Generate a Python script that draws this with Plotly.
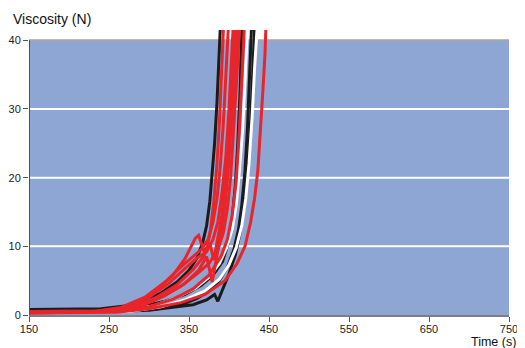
import plotly.graph_objects as go

# ---- data (time in s, viscosity in N) ----
black1_t = [150, 200, 240, 270, 295, 315, 335, 350, 360, 367, 372, 376, 379, 382, 385, 387, 389]
black1_v = [0.8, 0.8, 0.9, 1.3, 2.2, 3.2, 4.8, 6.5, 8.3, 10.5, 13, 16.5, 20.5, 25, 31, 36, 41.5]
black2_t = [150, 220, 260, 290, 320, 345, 365, 380, 392, 399, 404, 408, 411, 414, 416]
black2_v = [0.8, 0.7, 0.8, 1.2, 2.0, 3.0, 4.3, 5.8, 7.8, 10.5, 14, 19, 25, 33, 41.5]
black3_t = [150, 250, 300, 330, 355, 372, 382, 386, 392, 400, 408, 414, 419, 423, 427, 430, 432]
black3_v = [0.7, 0.5, 0.7, 1.1, 1.5, 2.2, 3.0, 2.0, 3.8, 6, 8.8, 12, 16, 21, 28, 36, 41.5]
black4_t = [150, 260, 310, 340, 360, 375, 388, 398, 406, 412, 416, 420, 423, 426, 428]
black4_v = [0.6, 0.5, 0.9, 1.5, 2.4, 3.5, 5, 7, 9.5, 12.5, 16, 21, 27, 35, 41.5]

white1_t = [150, 265, 305, 335, 358, 375, 388, 397, 404, 409, 413, 417, 420, 423]
white1_v = [0.4, 0.5, 1.3, 2.6, 3.9, 5.5, 7.5, 9.8, 12.5, 16, 21, 27, 34, 41.5]
white2_t = [150, 275, 315, 345, 370, 388, 400, 409, 416, 421, 425, 429, 432, 435]
white2_v = [0.4, 0.5, 1.2, 2.2, 3.5, 5.2, 7.3, 9.8, 13, 17, 22, 29, 36, 41.5]

red1_t = [150, 230, 260, 285, 310, 330, 345, 353, 358, 362, 365, 369, 373, 377, 381, 385, 388, 391, 393]
red1_v = [0.5, 0.5, 0.9, 1.8, 3.6, 5.8, 8.2, 10, 11.2, 11.6, 10.5, 9.2, 10, 12.5, 16.5, 22, 28, 35, 41.5]
red2_t = [150, 240, 270, 300, 325, 345, 360, 372, 380, 386, 391, 396, 400, 403, 405]
red2_v = [0.4, 0.5, 1.0, 2.6, 4.6, 6.8, 8.3, 9.2, 11, 13.5, 17.5, 23, 30, 37, 41.5]
red3_t = [150, 250, 280, 310, 335, 355, 368, 376, 381, 386, 391, 395, 399, 403, 406, 408]
red3_v = [0.5, 0.6, 1.2, 2.6, 4.4, 6.6, 8.5, 10.5, 8, 11, 14.5, 19, 25, 32, 38, 41.5]
red4_t = [150, 255, 290, 320, 345, 362, 372, 379, 384, 390, 395, 399, 403, 407, 411]
red4_v = [0.3, 0.5, 1.3, 2.8, 4.6, 6.5, 8.5, 4.8, 8, 12, 16, 21, 28, 35, 41.5]
red5_t = [150, 260, 300, 330, 355, 375, 390, 398, 404, 409, 413, 417, 419]
red5_v = [0.4, 0.5, 1.2, 2.3, 3.8, 5.8, 8.5, 11, 14.5, 19.5, 27, 37, 41.5]
red6_t = [150, 260, 300, 340, 370, 395, 410, 420, 427, 432, 436, 439, 442, 445, 446]
red6_v = [0.3, 0.4, 0.9, 1.8, 3, 5, 7.5, 10, 13.5, 17, 21, 26, 32, 38, 41.5]
red7_t = [150, 235, 265, 295, 320, 340, 355, 365, 374, 380, 385, 389, 393, 396, 399]
red7_v = [0.5, 0.6, 1.1, 2.6, 4.8, 7, 8.5, 9.5, 11, 13.5, 17, 21.5, 28, 35, 41.5]
red8_t = [150, 250, 285, 315, 340, 360, 375, 386, 393, 398, 402, 406, 410, 413]
red8_v = [0.4, 0.5, 1.2, 2.6, 4.2, 6, 7.5, 9.5, 12, 15.5, 20, 27, 35, 41.5]

x_ticks = [150, 250, 350, 450, 550, 650, 750]
y_ticks = [0, 10, 20, 30, 40]

BLACK = "#1b1b1b"
WHITE = "#ffffff"
RED = "#e8252b"
BG = "#8ea6d3"

series = [
    (black1_t, black1_v, BLACK), (black2_t, black2_v, BLACK),
    (black3_t, black3_v, BLACK), (black4_t, black4_v, BLACK),
    (white1_t, white1_v, WHITE), (white2_t, white2_v, WHITE),
    (red1_t, red1_v, RED), (red2_t, red2_v, RED), (red3_t, red3_v, RED),
    (red4_t, red4_v, RED), (red5_t, red5_v, RED), (red6_t, red6_v, RED),
    (red7_t, red7_v, RED), (red8_t, red8_v, RED),
]

fig = go.Figure()
for t, v, c in series:
    fig.add_trace(go.Scatter(x=t, y=v, mode="lines",
                             line=dict(color=c, width=3),
                             hoverinfo="skip", showlegend=False))

shapes = [dict(type="rect", xref="x", yref="y", x0=150, x1=750, y0=0, y1=40,
               fillcolor=BG, line=dict(width=0), layer="below")]
for g in [10, 20, 30]:
    shapes.append(dict(type="line", xref="x", yref="y", x0=150, x1=750, y0=g, y1=g,
                       line=dict(color=WHITE, width=2), layer="below"))
shapes.append(dict(type="line", xref="x", yref="y", x0=150, x1=750, y0=40, y1=40,
                   line=dict(color="#a6a6a6", width=2), layer="below"))
shapes.append(dict(type="line", xref="x", yref="y", x0=150, x1=150, y0=0, y1=40,
                   line=dict(color="#4a4f5c", width=2), layer="above"))

# page body has an 8px default margin, so the figure is sized to fit after it
fig.update_layout(
    width=517, height=340,
    margin=dict(l=21, r=16, t=22, b=33, autoexpand=False),
    paper_bgcolor="white", plot_bgcolor="white",
    font=dict(family="Liberation Sans, Arial, sans-serif", size=11, color="#222"),
    shapes=shapes,
    xaxis=dict(range=[150, 750], tickvals=x_ticks, ticks="outside", ticklen=5,
               tickcolor="#555", showgrid=False, zeroline=False, showline=True,
               linecolor="#7d7f85", linewidth=2, automargin=False,
               ticklabelstandoff=-2, tickfont=dict(size=11, color="#222")),
    yaxis=dict(range=[0, 41.5], tickvals=y_ticks, ticks="outside", ticklen=5,
               tickcolor="#555", showgrid=False, zeroline=False, showline=False,
               automargin=False, tickfont=dict(size=11, color="#222")),
    annotations=[
        dict(text="Viscosity (N)", xref="paper", yref="paper", x=-18/480, y=1,
             xanchor="left", yanchor="bottom", yshift=1, showarrow=False,
             font=dict(size=14, color="#111")),
        dict(text="Time (s)", xref="paper", yref="paper", x=1+8/480, y=0,
             xanchor="right", yanchor="top", yshift=-19, showarrow=False,
             borderpad=0, font=dict(size=12.5, color="#111")),
    ],
)

fig.write_html("out.html")
